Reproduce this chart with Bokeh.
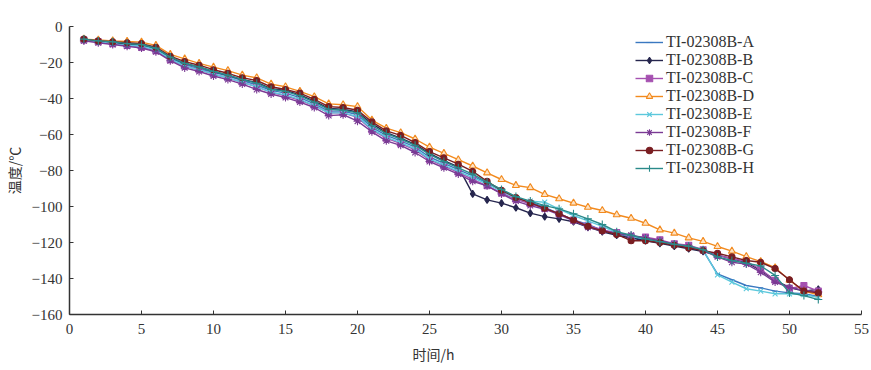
from bokeh.plotting import figure
from bokeh.models import Legend, LegendItem, ColumnDataSource, FixedTicker, Title
from bokeh.embed import file_html
from bokeh.resources import INLINE

hours = list(range(1, 53))

A = [-7.5, -8.5, -9, -10, -10.5, -12.5, -17.5, -21, -23.5, -25.5, -27.5, -30, -32.5, -35.5, -37, -39.5, -43, -47, -47, -49,
     -56, -60.5, -63.5, -67, -72.5, -76, -79.5, -83, -87, -91.5, -95, -97.5, -100.5, -104, -107.5, -110, -113.3, -115, -117, -118.5,
     -120, -121.5, -123, -124.5, -137.4, -140.7, -143.9, -145.2, -147, -148, -148.5, -150]
B = [-7.5, -8, -9, -9.5, -10, -12, -17, -20.5, -22.5, -25, -27, -29.5, -31, -34.5, -35.5, -38, -41.5, -45.5, -46, -47.5,
     -54, -59, -62, -65.5, -70.5, -74.5, -78, -93, -96.3, -98.1, -100.7, -103.7, -105.6, -106.9, -108.5, -111.5, -114, -116, -117.5, -119,
     -120.5, -122, -123.5, -125, -127, -129, -131, -135.5, -141, -145, -147, -146]
C = [-7.5, -8.5, -9.5, -10.5, -11.5, -13.5, -18.5, -22, -24, -26.5, -28.5, -31, -33.5, -36.5, -38.5, -41, -44, -48, -48, -50.5,
     -57.5, -62, -65, -68.5, -74, -77.5, -81, -85, -88.5, -92.5, -96, -98.5, -101, -104, -107.5, -110.5, -113, -114.5, -116.5, -117,
     -118.5, -120.7, -121.5, -124, -127, -129, -130.5, -135, -141, -145.7, -143.9, -147]
D = [-7, -7.5, -8, -8.3, -8.7, -10.5, -15.5, -18, -20.5, -22.6, -24.5, -27, -28.5, -32, -33.5, -36, -39, -43, -43.5, -44.5,
     -52, -56.5, -59, -62.5, -67, -70.5, -74, -77.5, -81.3, -85, -88.3, -89.5, -93.3, -95.7, -98.1, -100.4, -102.2, -104.6, -106.5, -109.3,
     -113, -114.8, -117.4, -119.4, -122.2, -124.8, -127.8, -130.6, -134, -141, -147, -149]
E = [-7.5, -8.5, -9.5, -10.5, -11, -13, -18, -22, -24, -26.5, -28.5, -31, -33.5, -36.5, -38, -40.5, -44, -48, -48, -50,
     -57, -61.5, -64.5, -68, -73.5, -77, -80.5, -84, -87.5, -91.5, -95.5, -97, -97.6, -101.5, -105, -108, -111, -114.5, -116.5, -118,
     -119.5, -121, -122.5, -124, -138, -142, -145.7, -147, -148.5, -148.5, -149, -150.5]
F = [-8, -9, -10, -11, -12, -14, -19, -23, -25, -27.5, -29.5, -32, -35, -37.5, -39.5, -42, -45, -49.5, -49, -52.6,
     -58.5, -63.5, -66, -70, -75, -78.5, -82, -86, -88.5, -93, -97, -99.5, -101.5, -104.5, -108, -111.5, -113.5, -115, -116, -117.5,
     -119, -121, -122.5, -124.5, -128, -131, -132, -136.5, -142, -145, -146.5, -147.5]
G = [-7, -8, -8.5, -9, -9.5, -11.5, -16.5, -19.5, -21.5, -24, -26, -28.5, -30, -33.5, -35, -37, -40.5, -44.5, -45, -46.5,
     -53, -58, -60.5, -64.5, -69.5, -73, -76.5, -80.5, -86, -91, -95, -98, -101, -104, -107.5, -111, -113.5, -115.5, -119, -119,
     -120, -121.5, -123, -124.5, -126, -128, -130, -131, -134.5, -140.7, -147, -148]
H = [-7, -8, -8.5, -9.5, -10, -12, -17, -20.5, -22.5, -25, -27, -29.5, -31.5, -35, -36, -38.5, -42, -46, -46.5, -48,
     -55, -59.5, -62.5, -66, -71, -75, -78.5, -82, -86.5, -90.5, -94.5, -97, -99.5, -101.3, -104, -106.9, -110, -114, -116, -118,
     -119.5, -121, -122, -124, -128, -130, -131.5, -133, -138.3, -148, -149.5, -151.7]

names = ["TI-02308B-A", "TI-02308B-B", "TI-02308B-C", "TI-02308B-D",
         "TI-02308B-E", "TI-02308B-F", "TI-02308B-G", "TI-02308B-H"]
series = [A, B, C, D, E, F, G, H]
colors = ["#3a78c0", "#26264e", "#a550b0", "#f28a1e", "#5cc8dc", "#7a3a94", "#7a1e22", "#2a8a8a"]
markers = ["dash", "diamond", "square", "triangle", "x", "asterisk", "circle", "cross"]
msizes = [5, 7, 6, 7, 7, 8, 6, 8]

x_ticks = [0, 5, 10, 15, 20, 25, 30, 35, 40, 45, 50, 55]
y_ticks = [0, -20, -40, -60, -80, -100, -120, -140, -160]
y_tick_labels = {t: (str(t).replace("-", "\u2212")) for t in y_ticks}

p = figure(frame_width=792, frame_height=288, x_range=(0, 55), y_range=(-160, 0),
           output_backend="svg", toolbar_location=None,
           min_border_left=67, min_border_top=26, min_border_bottom=10, min_border_right=10)
p.outline_line_color = None
p.xgrid.grid_line_color = None
p.ygrid.grid_line_color = None
p.background_fill_color = "white"

for ax in (p.xaxis[0], p.yaxis[0]):
    ax.axis_line_color = "#333333"
    ax.axis_line_width = 1.5
    ax.major_tick_in = 4
    ax.major_tick_out = 0
    ax.minor_tick_line_color = None
    ax.major_tick_line_color = "#333333"
    ax.major_label_text_font = "Liberation Serif"
    ax.major_label_text_font_size = "15px"
    ax.major_label_text_color = "#333333"
    ax.axis_label_text_font = "Noto Sans CJK SC"
    ax.axis_label_text_font_size = "14px"
    ax.axis_label_text_font_style = "normal"
    ax.axis_label_text_color = "#333333"

p.xaxis.ticker = FixedTicker(ticks=x_ticks)
p.yaxis.ticker = FixedTicker(ticks=y_ticks)
p.yaxis.major_label_overrides = y_tick_labels
p.yaxis.axis_label = "温度/℃"
p.xaxis.major_label_standoff = 9
p.yaxis.major_label_standoff = 7
p.yaxis.axis_label_standoff = 5

xlabel = Title(text="时间/h", align="left", offset=343, text_font="Noto Sans CJK SC",
               text_font_size="14px", text_font_style="normal", text_color="#333333",
               standoff=11)
p.add_layout(xlabel, "below")

items = []
for name, ys, c, m, s in zip(names, series, colors, markers, msizes):
    src = ColumnDataSource(dict(x=hours, y=ys))
    r1 = p.line("x", "y", source=src, line_color=c, line_width=1.4)
    fill = "#fde2c4" if m == "triangle" else c
    r2 = p.scatter("x", "y", source=src, marker=m, size=s, line_color=c, fill_color=fill, line_width=1.1)
    items.append(LegendItem(label=name, renderers=[r1, r2]))

legend = Legend(items=items, location=(566, 137), glyph_width=28, glyph_height=16, label_height=16,
                label_text_font="Liberation Serif", label_text_font_size="16px",
                label_text_color="#333333", spacing=0, padding=0, margin=0,
                border_line_alpha=0, background_fill_alpha=0, label_standoff=3)
p.add_layout(legend, "center")

open("out.html", "w").write(file_html(p, INLINE))
